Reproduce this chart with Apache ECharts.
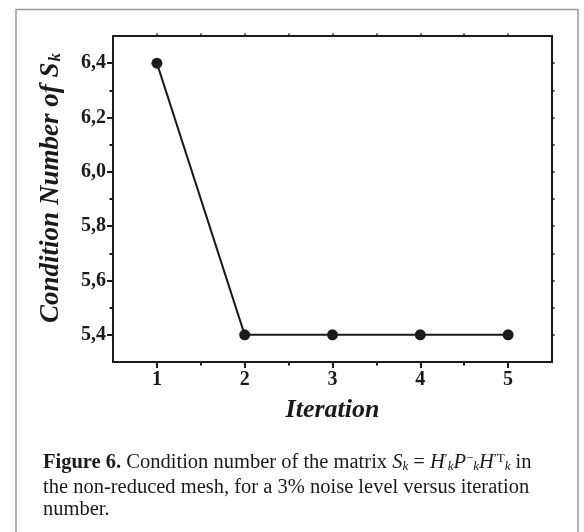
<!DOCTYPE html>
<html>
<head>
<meta charset="utf-8">
<script src="https://cdn.jsdelivr.net/npm/echarts@6/dist/echarts.min.js"></script>
<style>
html,body{margin:0;padding:0;background:#fff;}
#c{width:584px;height:532px;}
</style>
</head>
<body>
<div id="c"></div>
<script>
var iterations = [1, 2, 3, 4, 5];
var conditionNumber = [6.4, 5.4, 5.4, 5.4, 5.4];
var xTickLabels = [1, 2, 3, 4, 5];
var xMinorTicks = [1.5, 2.5, 3.5, 4.5];
var yTickLabels = [5.4, 5.6, 5.8, 6.0, 6.2, 6.4];
var yMinorTicks = [5.5, 5.7, 5.9, 6.1, 6.3];

var SERIF = '"Liberation Serif", "Times New Roman", serif';
var black = '#1a1a1a';

var chart = echarts.init(document.getElementById('c'), null, {renderer: 'canvas'});

function axisBase(pos, min, max) {
  return {
    type: 'value', position: pos, min: min, max: max,
    splitLine: {show: false},
    axisLine: {show: true, onZero: false, lineStyle: {color: black, width: 2}},
    axisLabel: {show: false},
    axisTick: {show: false}
  };
}

var xMain = axisBase('bottom', 0.5, 5.5);
xMain.axisTick = {show: true, customValues: xTickLabels, length: 6, inside: false, lineStyle: {color: black, width: 2}};
xMain.axisLabel = {show: true, customValues: xTickLabels, margin: 8, color: black,
  fontFamily: SERIF, fontWeight: 'bold', fontSize: 20};
xMain.name = 'Iteration';
xMain.nameLocation = 'middle';
xMain.nameGap = 35;
xMain.nameTextStyle = {fontFamily: SERIF, fontWeight: 'bold', fontStyle: 'italic', fontSize: 26, color: black};

var xMinor = axisBase('bottom', 0.5, 5.5);
xMinor.axisLine = {show: false};
xMinor.axisTick = {show: true, customValues: xMinorTicks, length: 3.5, lineStyle: {color: black, width: 2}};

var xTop = axisBase('top', 0.5, 5.5);
xTop.axisTick = {show: true, customValues: xTickLabels.concat(xMinorTicks), length: 2.5, lineStyle: {color: black, width: 1.5}};

var yMain = axisBase('left', 5.3, 6.5);
yMain.axisTick = {show: true, customValues: yTickLabels, length: 6, lineStyle: {color: black, width: 2}};
yMain.axisLabel = {show: true, customValues: yTickLabels, margin: 7, color: black,
  fontFamily: SERIF, fontWeight: 'bold', fontSize: 20,
  formatter: function (v) { return v.toFixed(1).replace('.', ','); }};

var yMinor = axisBase('left', 5.3, 6.5);
yMinor.axisLine = {show: false};
yMinor.axisTick = {show: true, customValues: yMinorTicks, length: 3.5, lineStyle: {color: black, width: 2}};

var yRight = axisBase('right', 5.3, 6.5);
yRight.axisTick = {show: true, customValues: yTickLabels.concat(yMinorTicks), length: 2.5, lineStyle: {color: black, width: 1.5}};

var seriesData = iterations.map(function (x, i) { return [x, conditionNumber[i]]; });

var CAP = 20.5;
function capRich() {
  return {
    b: {fontFamily: SERIF, fontSize: CAP, fontWeight: 'bold', fill: '#1a1a1a'},
    i: {fontFamily: SERIF, fontSize: CAP, fontStyle: 'italic', fill: '#1a1a1a'},
    sub: {fontFamily: SERIF, fontSize: 13, fontStyle: 'italic', fill: '#1a1a1a', verticalAlign: 'bottom', padding: [7, 0, 0, 0]},
    sup: {fontFamily: SERIF, fontSize: 13, fill: '#1a1a1a', verticalAlign: 'top', padding: [0, 0, 7, 0]},
    n: {fontFamily: SERIF, fontSize: CAP, fill: '#1a1a1a'}
  };
}

var titleStyle = {fontFamily: SERIF, fontWeight: 'bold', fontStyle: 'italic', fontSize: 27, fill: black};

var option = {
  backgroundColor: '#ffffff',
  animation: false,
  grid: {left: 113, top: 36, width: 439, height: 326, containLabel: false},
  xAxis: [xMain, xMinor, xTop],
  yAxis: [yMain, yMinor, yRight],
  series: [{
    type: 'line', xAxisIndex: 0, yAxisIndex: 0,
    data: seriesData,
    symbol: 'circle', symbolSize: 11,
    lineStyle: {color: black, width: 2},
    itemStyle: {color: black},
    z: 5
  }],
  graphic: [
    {type: 'rect', shape: {x: 16, y: 9.5, width: 562, height: 540},
     style: {fill: 'none', stroke: '#9a9a9a', lineWidth: 1.5}, silent: true},
    {type: 'text', x: 51, y: 188, rotation: Math.PI / 2,
     style: {
       text: '{t|Condition Number of }{t|S}{k|k}',
       align: 'center', verticalAlign: 'middle',
       rich: {
         t: titleStyle,
         k: {fontFamily: SERIF, fontWeight: 'bold', fontStyle: 'italic', fontSize: 17, fill: black, verticalAlign: 'bottom', padding: [9, 0, 0, 1]}
       }
     }},
    {type: 'text', left: 43, top: 452,
     style: {
       text: '{b|Figure 6.}{n| Condition number of the matrix }{i|S}{sub|k}{n| = }{i|H}{sup|′}{sub|k}{i|P}{sup|−}{sub|k}{i|H}{sup|′T}{sub|k}{n| in}',
       rich: capRich(), font: CAP + 'px ' + SERIF, fill: '#1a1a1a'
     }},
    {type: 'text', left: 43, top: 477,
     style: {text: 'the non-reduced mesh, for a 3% noise level versus iteration', font: CAP + 'px ' + SERIF, fill: '#1a1a1a'}},
    {type: 'text', left: 43, top: 499,
     style: {text: 'number.', font: CAP + 'px ' + SERIF, fill: '#1a1a1a'}}
  ]
};
chart.setOption(option);
</script>
</body>
</html>
